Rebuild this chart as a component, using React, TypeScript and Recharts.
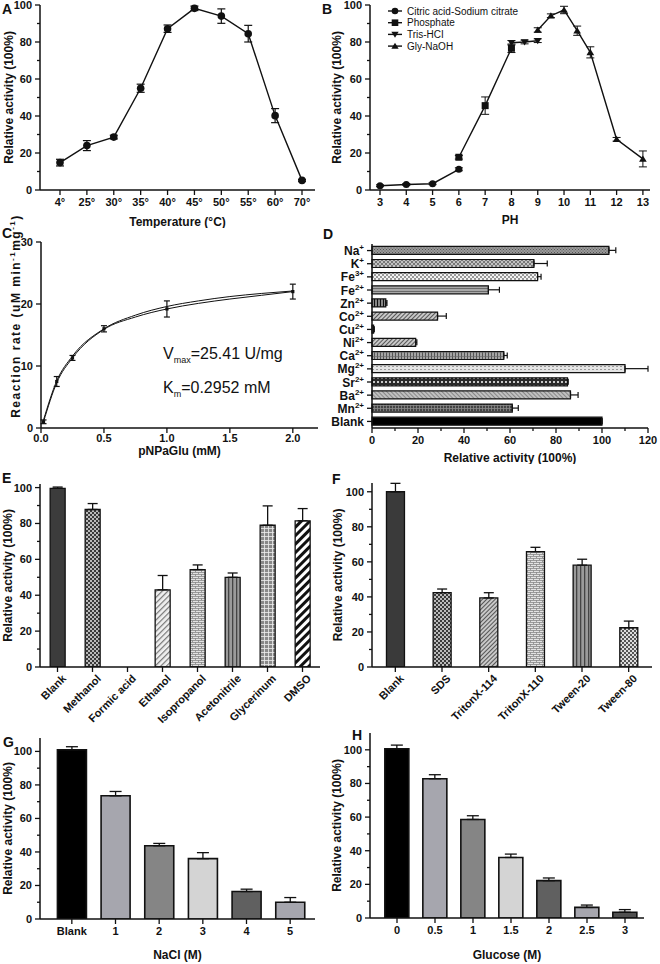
import React from "react";
import { LineChart, Line, XAxis, YAxis, ErrorBar, BarChart, Bar, Cell, Legend } from "recharts";

/* ---------- data ---------- */

// A: temperature
const tempLabels = ["4°", "25°", "30°", "35°", "40°", "45°", "50°", "55°", "60°", "70°"];
const tempActivity = [14.8, 24, 28.6, 55, 87.2, 98.2, 94, 84.5, 40.2, 5.2];
const tempError = [1.8, 2.7, 1, 2.2, 2, 1.2, 3.9, 4.5, 3.8, 0.5];

// B: pH, one list per buffer
const citricPh = [3, 4, 5, 6];
const citricAct = [2.3, 3, 3.4, 11.2];
const citricErr = [0.5, 0.5, 0.5, 0.8];
const phosphatePh = [6, 7, 8];
const phosphateAct = [17.7, 45.6, 76.6];
const phosphateErr = [1, 4.7, 2.3];
const trisPh = [8, 8.5, 9];
const trisAct = [79.6, 80, 80.7];
const trisErr = [1.2, 1, 1];
const glyPh = [9, 9.5, 10, 10.5, 11, 12, 13];
const glyAct = [86.5, 94.2, 97.3, 86.1, 74.4, 27.4, 16.8];
const glyErr = [1.2, 1, 2, 2.5, 3, 1, 4.3];
const phTicks = [3, 4, 5, 6, 7, 8, 9, 10, 11, 12, 13];

// C: kinetics
const substrateMm = [0.02, 0.125, 0.25, 0.5, 1, 2];
const rate = [1, 7.5, 11.3, 16, 19.2, 22];
const rateErr = [0.3, 0.8, 0.4, 0.5, 1.3, 1.2];
const fitMm = [0.02, 0.125, 0.25, 0.5, 0.75, 1, 1.25, 1.5, 1.75, 2];
const fitUpper = [1.3, 7.6, 11.6, 16, 18.2, 19.6, 20.5, 21.2, 21.7, 22.1];
const fitLower = [1.0, 7.3, 11.3, 15.9, 17.9, 19.2, 20.1, 20.8, 21.4, 22.0];
const rateTicks = [0, 10, 20, 30];
const mmTicks = [0, 0.5, 1, 1.5, 2];

// D: metal ions
const ions = ["Na+", "K+", "Fe3+", "Fe2+", "Zn2+", "Co2+", "Cu2+", "Ni2+", "Ca2+", "Mg2+", "Sr2+", "Ba2+", "Mn2+", "Blank"];
const ionActivity = [103, 70.4, 72, 50.6, 6, 28.5, 0.7, 19, 57.3, 110, 85, 86.3, 61, 100];
const ionError = [3, 5.8, 1.5, 4.8, 0.5, 3.8, 0.3, 0.5, 1.5, 10, 0.3, 3.3, 2.6, 0];
const ionTicks = [0, 10, 20, 30, 40, 50, 60, 70, 80, 90, 100, 110, 120];

// E: organic solvents
const solvents = ["Blank", "Methanol", "Formic acid", "Ethanol", "Isopropanol", "Acetonitrile", "Glycerinum", "DMSO"];
const solventActivity = [99.6, 87.8, 0, 43, 54.3, 50, 79, 81.5];
const solventError = [0.7, 3.3, 0, 8, 2.6, 2.4, 10.8, 6.8];

// F: surfactants
const surfactants = ["Blank", "SDS", "TritonX-114", "TritonX-110", "Tween-20", "Tween-80"];
const surfactantActivity = [100, 42.4, 39.4, 65.8, 58.1, 22.4];
const surfactantError = [4.8, 2.1, 3, 2.5, 3.4, 3.8];

// G: NaCl
const naclLabels = ["Blank", "1", "2", "3", "4", "5"];
const naclActivity = [101, 73.5, 43.7, 36, 16.4, 10];
const naclError = [1.8, 2.6, 1.4, 3.6, 1.4, 2.8];

// H: glucose
const glucoseLabels = ["0", "0.5", "1", "1.5", "2", "2.5", "3"];
const glucoseActivity = [100.6, 82.8, 58.6, 36, 22.2, 6.3, 3.4];
const glucoseError = [2.2, 2.4, 2.2, 2, 1.6, 1.4, 1.6];

const activityTicks = [0, 10, 20, 30, 40, 50, 60, 70, 80, 90, 100];

/* ---------- styling ---------- */

const FONT = "'Liberation Sans', Arial, Helvetica, sans-serif";
const INK = "#111";
const AXIS = { stroke: INK, strokeWidth: 1.5 };

const zipRows = (xs: any[], vs: number[], es: number[]) =>
  xs.map((x, i) => ({ x, v: vs[i], e: es[i] }));
const barRows = (xs: string[], vs: number[], es: number[]) =>
  xs.map((x, i) => ({ x, v: vs[i], e: [0, es[i]] }));

function isMajor(v: number, every?: number) {
  if (!every) return true;
  const q = v / every;
  return Math.abs(q - Math.round(q)) < 1e-6;
}

function LeftTick(props: any) {
  const { x, y, payload, every, fmt } = props;
  const v = payload.value;
  const major = isMajor(v, every);
  const edge = x + 8;
  return (
    <g>
      <line x1={edge - (major ? 5 : 3)} x2={edge} y1={y} y2={y} stroke={INK} strokeWidth={1.3} />
      {major && (
        <text x={x} y={y} dy="0.36em" textAnchor="end" fontFamily={FONT} fontWeight="bold" fontSize={11} fill={INK}>
          {fmt ? fmt(v) : v}
        </text>
      )}
    </g>
  );
}

function BottomTick(props: any) {
  const { x, y, payload, every, fmt, angled, lift = 0 } = props;
  const v = payload.value;
  const major = typeof v === "number" ? isMajor(v, every) : true;
  const edge = y - 8;
  const ty = y - lift;
  return (
    <g>
      <line x1={x} x2={x} y1={edge} y2={edge + (major ? 5 : 3)} stroke={INK} strokeWidth={1.3} />
      {major &&
        (angled ? (
          <text
            x={x + 5}
            y={ty}
            transform={`rotate(-45 ${x + 5} ${ty})`}
            textAnchor="end"
            dy="0.55em"
            fontFamily={FONT}
            fontWeight="bold"
            fontSize={11}
            fill={INK}
          >
            {v}
          </text>
        ) : (
          <text x={x} y={ty} dy="0.75em" textAnchor="middle" fontFamily={FONT} fontWeight="bold" fontSize={11} fill={INK}>
            {fmt ? fmt(v) : v}
          </text>
        ))}
    </g>
  );
}

function IonTick(props: any) {
  const { x, y, payload } = props;
  const m = /^([A-Za-z]+?)(\d?\+)$/.exec(payload.value);
  const edge = x + 8;
  return (
    <g>
      <line x1={edge - 5} x2={edge} y1={y} y2={y} stroke={INK} strokeWidth={1.3} />
      <text x={x} y={y} dy="0.38em" textAnchor="end" fontFamily={FONT} fontWeight="bold" fontSize={12} fill={INK}>
        {m ? m[1] : payload.value}
        {m && (
          <tspan dy={-5} fontSize={8}>
            {m[2]}
          </tspan>
        )}
      </text>
    </g>
  );
}

const xTitle = (text: string, dy: number) => (props: any) => {
  const vb = props.viewBox;
  return (
    <text
      x={vb.x + vb.width / 2}
      y={vb.y + dy}
      dominantBaseline="central"
      textAnchor="middle"
      fontFamily={FONT}
      fontWeight="bold"
      fontSize={12}
      fill={INK}
    >
      {text}
    </text>
  );
};

const yTitle = (content: React.ReactNode, cx: number, cy?: number, spacing = 0) => (props: any) => {
  const vb = props.viewBox;
  const y = cy ?? vb.y + vb.height / 2;
  return (
    <text
      x={cx}
      y={y}
      transform={`rotate(-90 ${cx} ${y})`}
      dominantBaseline="central"
      textAnchor="middle"
      fontFamily={FONT}
      fontWeight="bold"
      fontSize={12}
      letterSpacing={spacing}
      fill={INK}
    >
      {content}
    </text>
  );
};

function Marker(props: any) {
  const { cx, cy, kind, size = 3.8 } = props;
  if (cx == null || cy == null) return null;
  const s = size;
  if (kind === "square") return <rect x={cx - s} y={cy - s} width={2 * s} height={2 * s} fill={INK} />;
  if (kind === "down")
    return <path d={`M${cx - s * 1.1},${cy - s * 0.8}L${cx + s * 1.1},${cy - s * 0.8}L${cx},${cy + s}Z`} fill={INK} />;
  if (kind === "up")
    return <path d={`M${cx - s * 1.1},${cy + s * 0.8}L${cx + s * 1.1},${cy + s * 0.8}L${cx},${cy - s}Z`} fill={INK} />;
  return <circle cx={cx} cy={cy} r={s} fill={INK} />;
}

function PatternDefs() {
  return (
    <svg width={0} height={0} style={{ position: "absolute" }}>
      <defs>
        <pattern id="fineDots" width={3} height={3} patternUnits="userSpaceOnUse">
          <rect width={3} height={3} fill="#9a9a9a" />
          <rect width={1} height={1} fill="#555" />
          <rect x={1.5} y={1.5} width={1} height={1} fill="#555" />
        </pattern>
        <pattern id="crossHatch" width={4} height={4} patternUnits="userSpaceOnUse">
          <rect width={4} height={4} fill="#777" />
          <path d="M0,0L4,4M4,0L0,4" stroke="#d4d4d4" strokeWidth={0.8} />
        </pattern>
        <pattern id="lightCheck" width={4} height={4} patternUnits="userSpaceOnUse">
          <rect width={4} height={4} fill="#f4f4f4" />
          <rect width={2} height={2} fill="#9a9a9a" />
          <rect x={2} y={2} width={2} height={2} fill="#9a9a9a" />
        </pattern>
        <pattern id="hLines" width={3} height={3} patternUnits="userSpaceOnUse">
          <rect width={3} height={3} fill="#a8a8a8" />
          <rect width={3} height={1} fill="#6a6a6a" />
        </pattern>
        <pattern id="vStripesBW" width={3} height={3} patternUnits="userSpaceOnUse">
          <rect width={3} height={3} fill="#111" />
          <rect x={1.5} width={1} height={3} fill="#fff" />
        </pattern>
        <pattern id="diagGrey" width={3} height={3} patternUnits="userSpaceOnUse" patternTransform="rotate(45)">
          <rect width={3} height={3} fill="#c8c8c8" />
          <rect width={1} height={3} fill="#555" />
        </pattern>
        <pattern id="vGrid" width={3} height={4} patternUnits="userSpaceOnUse">
          <rect width={3} height={4} fill="#a4a4a4" />
          <rect width={1} height={4} fill="#555" />
          <rect width={3} height={0.6} fill="#666" />
        </pattern>
        <pattern id="lightDots" width={4} height={3} patternUnits="userSpaceOnUse">
          <rect width={4} height={3} fill="#e4e4e4" />
          <rect width={2} height={1} fill="#999" />
        </pattern>
        <pattern id="darkDots" width={4} height={4} patternUnits="userSpaceOnUse">
          <rect width={4} height={4} fill="#2a2a2a" />
          <circle cx={2} cy={2} r={1} fill="#fff" />
        </pattern>
        <pattern id="diagFine" width={3} height={3} patternUnits="userSpaceOnUse" patternTransform="rotate(-45)">
          <rect width={3} height={3} fill="#c0c0c0" />
          <rect width={1} height={3} fill="#888" />
        </pattern>
        <pattern id="darkGrid" width={3} height={3} patternUnits="userSpaceOnUse">
          <rect width={3} height={3} fill="#444" />
          <rect width={3} height={0.8} fill="#8a8a8a" />
          <rect width={0.8} height={3} fill="#8a8a8a" />
        </pattern>
        <pattern id="checker" width={4} height={4} patternUnits="userSpaceOnUse">
          <rect width={4} height={4} fill="#bbb" />
          <rect width={2} height={2} fill="#3a3a3a" />
          <rect x={2} y={2} width={2} height={2} fill="#3a3a3a" />
        </pattern>
        <pattern id="diagLight" width={4} height={4} patternUnits="userSpaceOnUse" patternTransform="rotate(45)">
          <rect width={4} height={4} fill="#f0f0f0" />
          <rect width={1.2} height={4} fill="#777" />
        </pattern>
        <pattern id="brick" width={6} height={4} patternUnits="userSpaceOnUse">
          <rect width={6} height={4} fill="#e2e2e2" />
          <rect width={6} height={0.8} fill="#888" />
          <rect y={2} width={6} height={0.8} fill="#888" />
          <rect width={0.8} height={2} fill="#888" />
          <rect x={3} y={2} width={0.8} height={2} fill="#888" />
        </pattern>
        <pattern id="vStripes" width={4} height={4} patternUnits="userSpaceOnUse">
          <rect width={4} height={4} fill="#9a9a9a" />
          <rect width={1.3} height={4} fill="#444" />
        </pattern>
        <pattern id="grid" width={4} height={4} patternUnits="userSpaceOnUse">
          <rect width={4} height={4} fill="#888" />
          <rect width={4} height={0.8} fill="#eee" />
          <rect width={0.8} height={4} fill="#eee" />
        </pattern>
        <pattern id="wideDiag" width={6} height={6} patternUnits="userSpaceOnUse" patternTransform="rotate(45)">
          <rect width={6} height={6} fill="#fff" />
          <rect width={3} height={6} fill="#111" />
        </pattern>
        <pattern id="lightChecker" width={4} height={4} patternUnits="userSpaceOnUse">
          <rect width={4} height={4} fill="#ddd" />
          <rect width={2} height={2} fill="#555" />
          <rect x={2} y={2} width={2} height={2} fill="#555" />
        </pattern>
      </defs>
    </svg>
  );
}

const ionFills = [
  "url(#fineDots)", "url(#crossHatch)", "url(#lightCheck)", "url(#hLines)", "url(#vStripesBW)",
  "url(#diagGrey)", "#777", "url(#diagGrey)", "url(#vGrid)", "url(#lightDots)",
  "url(#darkDots)", "url(#diagFine)", "url(#darkGrid)", "#000",
];
const solventFills = [
  "#3c3c3c", "url(#checker)", "#ccc", "url(#diagLight)", "url(#brick)", "url(#vStripes)", "url(#grid)", "url(#wideDiag)",
];
const surfactantFills = ["#3a3a3a", "url(#checker)", "url(#diagGrey)", "url(#brick)", "url(#vStripes)", "url(#lightChecker)"];
const saltFills = ["#000", "#a6a6ae", "#858585", "#d4d4d4", "#606060", "#a6a6ae", "#505050"];

const activityTitle = "Relative activity  (100%)";

function Letter({ ch, left, top }: { ch: string; left: number; top: number }) {
  return (
    <div style={{ position: "absolute", left, top, fontFamily: FONT, fontWeight: "bold", fontSize: 14, lineHeight: "14px", color: INK }}>
      {ch}
    </div>
  );
}

/* ---------- panels ---------- */

const tempRows = zipRows(tempLabels, tempActivity, tempError);

function PanelA() {
  return (
    <LineChart width={330} height={228} data={tempRows} margin={{ top: 5, right: 15, bottom: 0, left: 0 }}>
      <XAxis
        dataKey="x"
        height={38}
        padding={{ left: 20, right: 13 }}
        axisLine={AXIS}
        tickLine={false}
        tickSize={5}
        tickMargin={3}
        interval={0}
        tick={<BottomTick />}
        label={xTitle("Temperature (°C)", 32)}
      />
      <YAxis
        width={40}
        domain={[0, 100]}
        ticks={activityTicks}
        interval={0}
        axisLine={AXIS}
        tickLine={false}
        tickSize={5}
        tickMargin={3}
        tick={<LeftTick every={20} />}
        label={yTitle(activityTitle, 9)}
      />
      <Line dataKey="v" stroke={INK} strokeWidth={1.4} dot={<Marker kind="circle" size={3.8} />} isAnimationActive={false}>
        <ErrorBar dataKey="e" width={4} stroke={INK} strokeWidth={1.2} />
      </Line>
    </LineChart>
  );
}

const phSeries = [
  { name: "Citric acid-Sodium citrate", kind: "circle", rows: zipRows(citricPh, citricAct, citricErr) },
  { name: "Phosphate", kind: "square", rows: zipRows(phosphatePh, phosphateAct, phosphateErr) },
  { name: "Tris-HCI", kind: "down", rows: zipRows(trisPh, trisAct, trisErr) },
  { name: "Gly-NaOH", kind: "up", rows: zipRows(glyPh, glyAct, glyErr) },
];

function PhLegend() {
  return (
    <svg width={200} height={54} style={{ display: "block" }}>
      {phSeries.map((s, i) => {
        const y = 10 + i * 11.7;
        return (
          <g key={s.name}>
            <line x1={8} x2={22} y1={y} y2={y} stroke={INK} strokeWidth={1.4} />
            <Marker cx={15} cy={y} kind={s.kind} size={3.3} />
            <text x={27} y={y} dy="0.35em" fontSize={10} fontFamily={FONT} fill={INK}>
              {s.name}
            </text>
          </g>
        );
      })}
    </svg>
  );
}

function PanelB() {
  return (
    <LineChart width={340} height={228} margin={{ top: 5, right: 10, bottom: 0, left: 0 }}>
      <XAxis
        type="number"
        dataKey="x"
        domain={[2.62, 13.27]}
        ticks={phTicks}
        interval={0}
        allowDataOverflow
        height={38}
        axisLine={AXIS}
        tickLine={false}
        tickSize={5}
        tickMargin={3}
        tick={<BottomTick />}
        label={xTitle("PH", 30)}
      />
      <YAxis
        width={50}
        domain={[0, 100]}
        ticks={activityTicks}
        interval={0}
        axisLine={AXIS}
        tickLine={false}
        tickSize={5}
        tickMargin={3}
        tick={<LeftTick every={20} />}
        label={yTitle(activityTitle, 17)}
      />
      <Legend
        layout="horizontal"
        verticalAlign="middle"
        align="center"
        wrapperStyle={{ position: "absolute", left: 60, top: 1, width: 200, height: 54 }}
        content={() => <PhLegend />}
      />
      {phSeries.map((s) => (
        <Line
          key={s.name}
          name={s.name}
          data={s.rows}
          dataKey="v"
          stroke={INK}
          strokeWidth={1.4}
          dot={<Marker kind={s.kind} size={3.5} />}
          isAnimationActive={false}
        >
          <ErrorBar dataKey="e" width={4} stroke={INK} strokeWidth={1} />
        </Line>
      ))}
    </LineChart>
  );
}

const rateRows = zipRows(substrateMm, rate, rateErr);
const upperRows = fitMm.map((x, i) => ({ x, v: fitUpper[i] }));
const lowerRows = fitMm.map((x, i) => ({ x, v: fitLower[i] }));

// panel C's box starts at page y 205 so its long y title is not clipped
function PanelC() {
  return (
    <LineChart width={330} height={259} margin={{ top: 37, right: 12, bottom: 0, left: 0 }}>
      <XAxis
        type="number"
        dataKey="x"
        domain={[0, 2.2]}
        ticks={mmTicks}
        interval={0}
        height={36}
        axisLine={AXIS}
        tickLine={false}
        tickSize={5}
        tickMargin={3}
        tick={<BottomTick lift={2} fmt={(v: number) => v.toFixed(1)} />}
        label={xTitle("pNPaGlu (mM)", 23)}
      />
      <YAxis
        width={41}
        domain={[0, 30]}
        ticks={rateTicks}
        interval={0}
        axisLine={AXIS}
        tickLine={false}
        tickSize={5}
        tickMargin={3}
        tick={<LeftTick />}
        label={yTitle(
          <>
            Reaction rate (uM min
            <tspan dy={-4} fontSize={8}>-1</tspan>
            <tspan dy={4}>mg</tspan>
            <tspan dy={-4} fontSize={8}>-1</tspan>
            <tspan dy={4}>)</tspan>
          </>,
          15.5,
          111,
          1.5
        )}
      />
      <Line data={upperRows} dataKey="v" type="monotone" stroke={INK} strokeWidth={1} dot={false} isAnimationActive={false} />
      <Line data={lowerRows} dataKey="v" type="monotone" stroke={INK} strokeWidth={1} dot={false} isAnimationActive={false} />
      <Line data={rateRows} dataKey="v" stroke="none" dot={<Marker kind="square" size={1.6} />} isAnimationActive={false}>
        <ErrorBar dataKey="e" width={3} stroke={INK} strokeWidth={1.2} />
      </Line>
    </LineChart>
  );
}

const ionRows = barRows(ions, ionActivity, ionError);

function PanelD() {
  return (
    <BarChart
      width={340}
      height={236}
      layout="vertical"
      data={ionRows}
      barCategoryGap="18%"
      margin={{ top: 16, right: 12, bottom: 0, left: 0 }}
    >
      <XAxis
        type="number"
        domain={[0, 120]}
        ticks={ionTicks}
        interval={0}
        height={36}
        axisLine={AXIS}
        tickLine={false}
        tickSize={5}
        tickMargin={3}
        tick={<BottomTick every={20} />}
        label={xTitle("Relative activity (100%)", 30)}
      />
      <YAxis
        type="category"
        dataKey="x"
        width={52}
        interval={0}
        axisLine={AXIS}
        tickLine={false}
        tickSize={5}
        tickMargin={3}
        tick={<IonTick />}
      />
      <Bar dataKey="v" stroke={INK} strokeWidth={1.2} isAnimationActive={false}>
        {ionRows.map((r, i) => (
          <Cell key={r.x} fill={ionFills[i]} />
        ))}
        <ErrorBar dataKey="e" direction="x" width={3} stroke={INK} strokeWidth={1.2} />
      </Bar>
    </BarChart>
  );
}

function PatternBars({
  rows, fills, width, height, margin, xHeight, yWidth, domain, gap, angled, title, titleX, titleDy, padding, barStroke, cap,
}: any) {
  return (
    <BarChart width={width} height={height} data={rows} barCategoryGap={gap} margin={margin}>
      <XAxis
        dataKey="x"
        height={xHeight}
        axisLine={AXIS}
        tickLine={false}
        tickSize={5}
        tickMargin={3}
        interval={0}
        padding={padding}
        tick={<BottomTick angled={angled} />}
        label={title ? xTitle(title, titleDy) : undefined}
      />
      <YAxis
        width={yWidth}
        domain={domain}
        ticks={activityTicks}
        interval={0}
        allowDataOverflow
        axisLine={AXIS}
        tickLine={false}
        tickSize={5}
        tickMargin={3}
        tick={<LeftTick every={20} />}
        label={yTitle(activityTitle, titleX)}
      />
      <Bar dataKey="v" stroke={INK} strokeWidth={barStroke} isAnimationActive={false}>
        {rows.map((r: any, i: number) => (
          <Cell key={r.x} fill={fills[i]} />
        ))}
        <ErrorBar dataKey="e" width={cap} stroke={INK} strokeWidth={1.3} />
      </Bar>
    </BarChart>
  );
}

function App() {
  return (
    <div style={{ position: "absolute", left: 0, top: 0, width: 660, height: 964, background: "#fff", overflow: "hidden" }}>
      <PatternDefs />
      <div style={{ position: "absolute", left: 0, top: 0 }}>
        <PanelA />
      </div>
      <div style={{ position: "absolute", left: 320, top: 0 }}>
        <PanelB />
      </div>
      <div style={{ position: "absolute", left: 0, top: 205 }}>
        <PanelC />
      </div>
      <div
        style={{ position: "absolute", left: 163, top: 345, fontFamily: FONT, fontSize: 16, color: INK, whiteSpace: "nowrap" }}
      >
        V<sub style={{ fontSize: 9 }}>max</sub>=25.41 U/mg
      </div>
      <div
        style={{ position: "absolute", left: 163, top: 379, fontFamily: FONT, fontSize: 16, color: INK, whiteSpace: "nowrap" }}
      >
        K<sub style={{ fontSize: 9 }}>m</sub>=0.2952 mM
      </div>
      <div style={{ position: "absolute", left: 320, top: 228 }}>
        <PanelD />
      </div>
      <div style={{ position: "absolute", left: 0, top: 464 }}>
        <PatternBars
          rows={barRows(solvents, solventActivity, solventError)}
          fills={solventFills}
          width={330}
          height={290}
          margin={{ top: 20, right: 10, bottom: 0, left: 0 }}
          xHeight={87}
          yWidth={40}
          domain={[0, 102]}
          gap="29%"
          angled
          titleX={7.5}
          barStroke={1.3}
          cap={5}
        />
      </div>
      <div style={{ position: "absolute", left: 320, top: 464 }}>
        <PatternBars
          rows={barRows(surfactants, surfactantActivity, surfactantError)}
          fills={surfactantFills}
          width={340}
          height={290}
          margin={{ top: 19, right: 8, bottom: 0, left: 0 }}
          xHeight={87}
          yWidth={52}
          domain={[0, 105]}
          gap="31%"
          angled
          titleX={18}
          barStroke={1.3}
          cap={5}
        />
      </div>
      <div style={{ position: "absolute", left: 0, top: 730 }}>
        <PatternBars
          rows={barRows(naclLabels, naclActivity, naclError)}
          fills={saltFills}
          width={330}
          height={234}
          margin={{ top: 8, right: 15, bottom: 0, left: 0 }}
          xHeight={45}
          yWidth={40}
          domain={[0, 108]}
          gap="17%"
          padding={{ left: 10, right: 3 }}
          title="NaCl (M)"
          titleDy={36}
          titleX={7.5}
          barStroke={1.6}
          cap={6}
        />
      </div>
      <div style={{ position: "absolute", left: 320, top: 730 }}>
        <PatternBars
          rows={barRows(glucoseLabels, glucoseActivity, glucoseError)}
          fills={saltFills}
          width={340}
          height={234}
          margin={{ top: 3, right: 16, bottom: 0, left: 0 }}
          xHeight={46}
          yWidth={50}
          domain={[0, 110]}
          gap="18%"
          padding={{ left: 8, right: 0 }}
          title="Glucose (M)"
          titleDy={37}
          titleX={17}
          barStroke={1.6}
          cap={6}
        />
      </div>
      <Letter ch="A" left={2} top={2} />
      <Letter ch="B" left={322} top={2} />
      <Letter ch="C" left={2} top={226} />
      <Letter ch="D" left={323} top={227} />
      <Letter ch="E" left={2} top={471} />
      <Letter ch="F" left={332} top={472} />
      <Letter ch="G" left={3} top={735} />
      <Letter ch="H" left={352} top={728} />
    </div>
  );
}

export default App;
